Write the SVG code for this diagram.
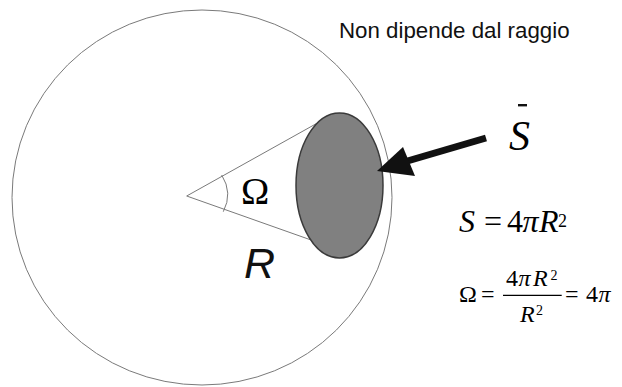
<svg xmlns="http://www.w3.org/2000/svg" width="622" height="387" viewBox="0 0 622 387">
<style>
.thin{fill:none;stroke:#7a7a7a;stroke-width:1}
.serif{font-family:"Liberation Serif","Times New Roman",serif;fill:#000}
.sans{font-family:"Liberation Sans",Arial,sans-serif;fill:#111}
.it{font-style:italic}
</style>
<rect width="622" height="387" fill="#fff"/>
<g id="sphere">
<ellipse cx="202" cy="197.5" rx="190" ry="187.5" class="thin" stroke="#888"/>
</g>
<g id="cone">
<line x1="186.7" y1="196" x2="318" y2="122.7" class="thin"/>
<line x1="186.7" y1="196" x2="330" y2="246.7" class="thin"/>
<path d="M221.7,175 Q233,193 223.3,211.7" class="thin"/>
<text x="241" y="204.3" class="serif" font-size="38">Ω</text>
<text x="244" y="278" class="sans it" font-size="43">R</text>
</g>
<g id="surface">
<ellipse cx="339.5" cy="185.5" rx="43.5" ry="72.5" fill="#808080" stroke="#3a3a3a" stroke-width="1.5"/>
</g>
<g id="connectors">
<line x1="486" y1="138" x2="404" y2="162" stroke="#111" stroke-width="7"/>
<polygon points="377,171 403,147 415,176" fill="#111"/>
</g>
<g id="labels">
<text x="339" y="38" class="sans" font-size="22.3" fill="#000">Non dipende dal raggio</text>
<text x="509" y="150" class="serif it" font-size="42">S</text>
<rect x="518" y="104" width="9" height="2.4" fill="#111"/>
<g class="serif" font-size="32">
<text x="459" y="231.7" class="it">S</text>
<text x="484" y="231.7">=</text>
<text x="507" y="231.7">4</text>
<text x="522.5" y="231.7" class="it">π</text>
<text x="539" y="231.7" class="it">R</text>
<text x="558" y="226.5" font-size="18">2</text>
</g>
<g class="serif" font-size="24">
<text x="459" y="301.7">Ω</text>
<text x="481" y="301.7">=</text>
<text x="506" y="286">4</text>
<text x="518.5" y="286" class="it">π</text>
<text x="533" y="286" class="it">R</text>
<text x="550.5" y="280" font-size="14">2</text>
<text x="520" y="321.7" class="it">R</text>
<text x="536" y="315" font-size="14">2</text>
<text x="565" y="301.7">=</text>
<text x="586" y="301.7">4</text>
<text x="598.5" y="301.7" class="it">π</text>
</g>
<line x1="503" y1="295.3" x2="561.7" y2="295.3" stroke="#000" stroke-width="1.3"/>
</g>
</svg>
